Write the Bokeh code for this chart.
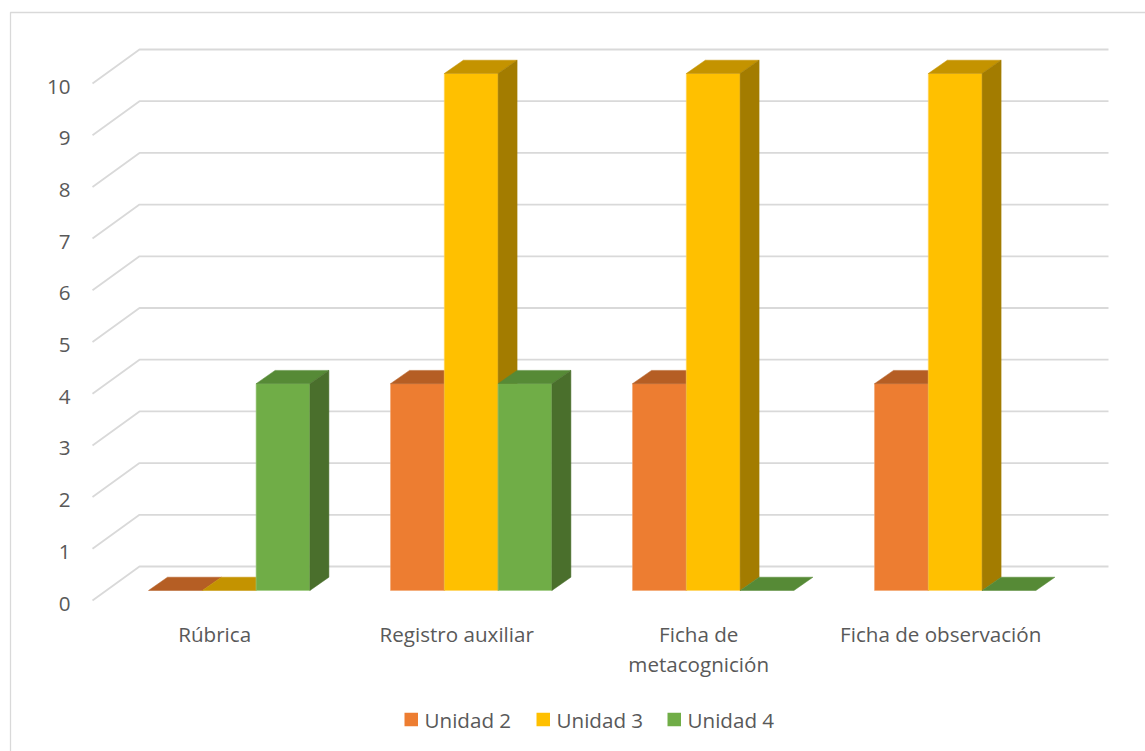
import textwrap

from bokeh.core.properties import value
from bokeh.embed import file_html
from bokeh.models import ColumnDataSource, Range1d
from bokeh.plotting import figure
from bokeh.resources import INLINE

# ---- data -------------------------------------------------------------
categories = ["Rúbrica", "Registro auxiliar", "Ficha de metacognición", "Ficha de observación"]
series_names = ["Unidad 2", "Unidad 3", "Unidad 4"]
unidad_2 = [0, 4, 4, 4]
unidad_3 = [0, 10, 10, 10]
unidad_4 = [4, 4, 0, 0]
y_ticks = list(range(0, 11))

# ---- look -------------------------------------------------------------
FONT = "Open Sans"
FONT_SIZE = "20.6px"
TEXT_COLOR = "#595959"
GRID_COLOR = "#d9d9d9"
FRONT = ["#ED7D31", "#FFC000", "#70AD47"]
TOP = ["#B55E24", "#C49300", "#568A36"]
SIDE = ["#A5561F", "#A37C00", "#4A6F2C"]
EDGE = ["#F4A56F", "#FFD45E", "#9DC97F"]

W, H = 1145, 751
CAT_PX = 242.0      # horizontal distance between category groups
UNIT_PX = 51.7      # vertical size of one value unit
ORIGIN_X = 148.0    # left edge of the first group, front plane
ORIGIN_Y = 590.0    # value 0, front plane
BAR_PX = 53.8
DEPTH_X_PX, DEPTH_Y_PX = 19.0, 13.3


def dx(px):
    return px / CAT_PX


def dy(px):
    return px / UNIT_PX


def sx(px):
    return (px - ORIGIN_X) / CAT_PX


def sy(py):
    return (ORIGIN_Y - py) / UNIT_PX


p = figure(
    width=W, height=H,
    x_range=Range1d(sx(0), sx(W)), y_range=Range1d(sy(H), sy(0)),
    output_backend="svg", toolbar_location=None,
    x_axis_location=None, y_axis_location=None,
    min_border=0, outline_line_color=None,
    background_fill_color="white", border_fill_color="white",
)
p.xgrid.visible = False
p.ygrid.visible = False

# chart-area border
p.line(x=[sx(10), sx(10), sx(W + 5)], y=[sy(H + 5), sy(12), sy(12)],
       line_color=GRID_COLOR, line_width=1.3)

# back wall gridlines with their floor diagonals
grid_xs = [[sx(92), sx(139), sx(1108)] for _ in y_ticks]
grid_ys = [[v - dy(10), v + dy(24), v + dy(24)] for v in y_ticks]
p.multi_line(xs=grid_xs, ys=grid_ys, line_color=GRID_COLOR, line_width=1.8)

# value labels
p.text(x=[sx(70)] * len(y_ticks), y=[v - dy(13) for v in y_ticks],
       text=[str(v) for v in y_ticks], text_align="right", text_baseline="middle",
       text_font=value(FONT), text_font_size=FONT_SIZE, text_color=TEXT_COLOR)

# 3D columns: front face, top face, right side face
w = dx(BAR_PX)
ddx, ddy = dx(DEPTH_X_PX), dy(DEPTH_Y_PX)
for j, vals in enumerate([unidad_2, unidad_3, unidad_4]):
    lefts = [i + j * w for i in range(len(categories))]
    front = ColumnDataSource(dict(
        left=[l for l, v in zip(lefts, vals) if v > 0],
        right=[l + w for l, v in zip(lefts, vals) if v > 0],
        top=[v for v in vals if v > 0],
        bottom=[0 for v in vals if v > 0],
    ))
    p.quad(source=front, left="left", right="right", top="top", bottom="bottom",
           fill_color=FRONT[j], line_color=EDGE[j], line_width=1, line_alpha=0.6)
    top_xs = [[l, l + w, l + w + ddx, l + ddx] for l in lefts]
    top_ys = [[v, v, v + ddy, v + ddy] for v in vals]
    p.patches(xs=top_xs, ys=top_ys, fill_color=TOP[j], line_color=TOP[j], line_width=0.5)
    side_xs = [[l + w, l + w + ddx, l + w + ddx, l + w] for l, v in zip(lefts, vals) if v > 0]
    side_ys = [[0, ddy, v + ddy, v] for v in vals if v > 0]
    if side_xs:
        p.patches(xs=side_xs, ys=side_ys, fill_color=SIDE[j], line_color=SIDE[j], line_width=0.5)

# category labels, wrapped like the original axis
lab_x, lab_y, lab_t = [], [], []
for i, name in enumerate(categories):
    for k, line in enumerate(textwrap.wrap(name, 20)):
        lab_x.append(i + 1.5 * w - dx(14.5))
        lab_y.append(sy(633 + 30 * k))
        lab_t.append(line)
p.text(x=lab_x, y=lab_y, text=lab_t, text_align="center", text_baseline="middle",
       text_font=value(FONT), text_font_size=FONT_SIZE, text_color=TEXT_COLOR)

# legend
legend_px = [404, 536, 667]
p.rect(x=[sx(px + 6.75) for px in legend_px], y=[sy(719)] * 3,
       width=13.5, height=13.5, width_units="screen", height_units="screen",
       fill_color=FRONT, line_color=None)
p.text(x=[sx(px + 20) for px in legend_px], y=[sy(719)] * 3, text=series_names,
       text_align="left", text_baseline="middle",
       text_font=value(FONT), text_font_size=FONT_SIZE, text_color=TEXT_COLOR)

open("out.html", "w").write(file_html(p, INLINE))
